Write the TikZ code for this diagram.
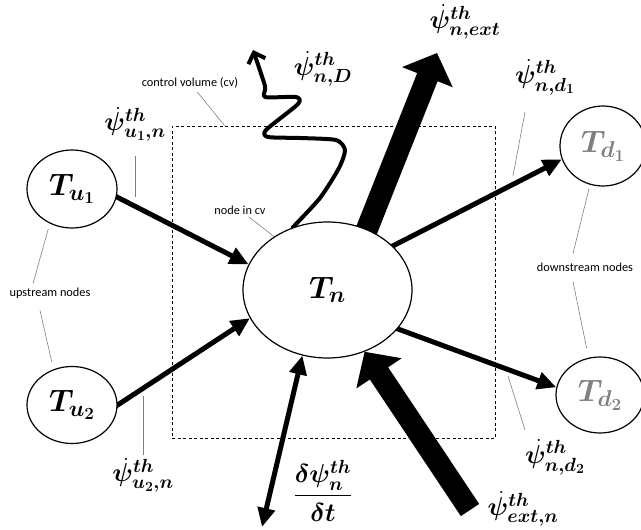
\RequirePackage{fix-cm}
\documentclass[tikz,border=0pt]{standalone}
\usepackage{amsmath,amssymb,bm}
\usepackage{fontspec}
\newfontfamily\notefont{Carlito}
\DeclareMathSizes{26}{26}{19}{14}
\DeclareMathSizes{31}{31}{23}{17}
\usetikzlibrary{arrows.meta,shapes.geometric,backgrounds}
\tikzset{>={Triangle[width=17pt,length=19pt]}}
\tikzset{
  tnode/.style={ellipse, draw, line width=1.2pt, fill=white, inner sep=0pt, font=\fontsize{31}{35}\selectfont},
  cvbox/.style={draw, dash pattern=on 3pt off 2.5pt, line width=0.8pt, inner sep=0pt},
  flow/.style={->, line width=5pt},
  bigflow/.style={-{Triangle[width=53pt,length=26pt]}, line width=22pt},
  dissflow/.style={-{Straight Barb[width=18pt,length=9pt]}, line width=4pt, line cap=round, line join=round},
  qlabel/.style={inner sep=1pt, font=\fontsize{26}{30}\selectfont},
  notetext/.style={inner sep=1pt, font=\notefont\fontsize{12.3}{14}\selectfont},
  note/.style={draw=gray, line width=0.6pt}
}

\begin{document}
\begin{tikzpicture}[x=1pt,y=-1pt]
  \useasboundingbox (0,0) rectangle (641,530);

  %% control volume
  \node[cvbox, minimum width=323pt, minimum height=312pt] (cv) at (333.5,282) {};

  %% temperature nodes
  \node[tnode, minimum width=90pt, minimum height=78pt] (Tu1) at (72,189) {$\bm{T_{u_1}}$};
  \node[tnode, minimum width=90pt, minimum height=77pt] (Tu2) at (72,405) {$\bm{T_{u_2}}$};
  \node[tnode, minimum width=169pt, minimum height=136pt] (Tn) at (327.5,290) {$\bm{T_n}$};
  \node[tnode, text=gray, minimum width=86pt, minimum height=80pt] (Td1) at (603,146) {$\bm{T_{d_1}}$};
  \node[tnode, text=gray, minimum width=88pt, minimum height=76pt] (Td2) at (600,395) {$\bm{T_{d_2}}$};

  \coordinate (extout) at (437,53);
  \coordinate (extin) at (470,510);
  \coordinate (store) at (262,527);
  \coordinate (diss) at (253,50);

  %% heat flows
  \begin{scope}[on background layer]
    \draw[flow, shorten <=-3pt] (Tu1.-10) -- (Tn.162); %% Tu1->Tn
    \draw[flow, shorten <=-3pt] (Tu2.0) -- (Tn.200);   %% Tu2->Tn
    \draw[flow, shorten <=-3pt] (Tn.34.5) -- (Td1.198); %% Tn->Td1
    \draw[flow, shorten <=-3pt] (Tn.-29) -- (Td2.170);  %% Tn->Td2
    \draw[flow, <->] (store) -- (Tn.-111);             %% storage
    \draw[bigflow, shorten <=-20pt] (Tn.57) -- (extout); %% Tn->ext
    \draw[bigflow] (extin) -- (Tn.-59);                %% ext->Tn
    \draw[dissflow] plot[smooth, tension=0.4] coordinates {(Tn.119) (320,198) (339,168) (345,150) (336,140)
      (300,138) (268,137) (266,130) (298,104) (296,97) (265,97) (265,86) (diss)}; %% dissipation
  \end{scope}

  %% flow labels
  \node[qlabel] (qu1) at (135,124) {$\bm{\dot{\psi}^{th}_{u_1,n}}$};
  \node[qlabel] (qu2) at (143,475) {$\bm{\dot{\psi}^{th}_{u_2,n}}$};
  \node[qlabel] (qnD) at (323,69) {$\bm{\dot{\psi}^{th}_{n,D}}$};
  \node[qlabel] (qnext) at (465,22) {$\bm{\dot{\psi}^{th}_{n,ext}}$};
  \node[qlabel] (qd1) at (545,77) {$\bm{\dot{\psi}^{th}_{n,d_1}}$};
  \node[qlabel] (qd2) at (555,457) {$\bm{\dot{\psi}^{th}_{n,d_2}}$};
  \node[qlabel] (qextn) at (523,509) {$\bm{\dot{\psi}^{th}_{ext,n}}$};
  \node[qlabel] (dpsi) at (323,491) {$\bm{\dfrac{\delta\psi^{th}_n}{\delta t}}$};

  \draw[note] ([yshift=-14pt]qu1.south) -- ++(0,41);
  \draw[note] ([yshift=2pt]qu2.north) -- ++(0,-59);
  \draw[note] ([xshift=-20pt,yshift=-16pt]qd1.south) -- ++(-12,64);
  \draw[note] ([xshift=-30pt,yshift=8pt]qd2.north) -- ++(-17,-54);

  %% notes
  \node[notetext] (cvnote) at (190,83) {control volume (cv)};
  \node[notetext] (tnnote) at (240,210) {node in cv};
  \node[notetext] (upnote) at (50,293) {upstream nodes};
  \node[notetext] (downnote) at (585,267) {downstream nodes};

  \draw[note, shorten <=3pt] (cvnote) -- ([xshift=53pt]cv.north west);
  \draw[note, shorten <=2pt] (tnnote) -- (Tn.135);
  \draw[note] ([yshift=-6pt]Tu1.-125) -- ([xshift=-17pt,yshift=3pt]upnote.north);
  \draw[note] ([xshift=-10pt,yshift=-11pt]upnote.south) -- ([yshift=8pt]Tu2.120);
  \draw[note] ([yshift=-4pt]Td1.-110) -- ([xshift=-12pt,yshift=8pt]downnote.north);
  \draw[note] ([xshift=-12pt,yshift=-9pt]downnote.south) -- ([yshift=10pt]Td2.110);
\end{tikzpicture}
\end{document}
